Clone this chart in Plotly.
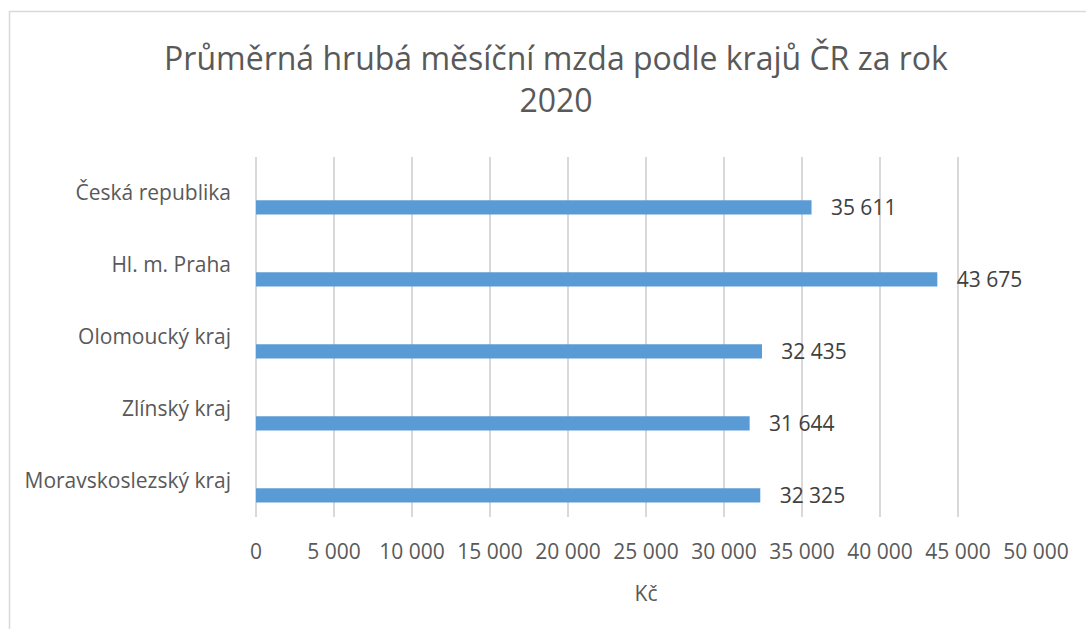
import plotly.graph_objects as go

categories = ["Česká republika", "Hl. m. Praha", "Olomoucký kraj", "Zlínský kraj", "Moravskoslezský kraj"]
values = [35611, 43675, 32435, 31644, 32325]
tick_values = [0, 5000, 10000, 15000, 20000, 25000, 30000, 35000, 40000, 45000, 50000]
title_text = "Průměrná hrubá měsíční mzda podle krajů ČR za rok<br>2020"
axis_title = "Kč"

FONT = "Open Sans"
TXT = "#595959"
GRID = "#D9D9D9"
BAR = "#5B9BD5"

fig = go.Figure()
fig.add_trace(go.Bar(
    x=values, y=categories, orientation="h",
    marker=dict(color=BAR, line=dict(width=0)),
    width=0.2, offset=0.1,
    texttemplate="\u00a0\u00a0\u00a0%{x:,d}",
    textposition="outside", constraintext="none", cliponaxis=False,
    textfont=dict(family=FONT, size=21, color="#404040"),
    hoverinfo="skip",
))

L, R, T, B = 256, 1036, 157, 517
W, H = 1086, 629

fig.update_layout(
    width=W, height=H,
    margin=dict(l=L, r=W - R, t=T, b=H - B, pad=0),
    paper_bgcolor="white", plot_bgcolor="white",
    separators=", ",
    showlegend=False,
    title=dict(text=title_text, x=556 / W, xanchor="center", xref="container",
               y=1 - 70 / H, yanchor="top", yref="container",
               font=dict(family=FONT, size=32, color=TXT)),
    xaxis=dict(range=[0, 50000], tickvals=tick_values, tickformat=",d",
               showgrid=True, gridcolor=GRID, gridwidth=1.5,
               zeroline=True, zerolinecolor=GRID, zerolinewidth=1.5,
               showline=False, ticks="", ticklabelstandoff=20,
               tickfont=dict(family=FONT, size=21, color=TXT),
               title=dict(text=axis_title, font=dict(family=FONT, size=21, color=TXT), standoff=22)),
    yaxis=dict(type="category", autorange="reversed", showgrid=False, zeroline=False,
               showline=False, ticks="", ticklabelstandoff=24,
               tickfont=dict(family=FONT, size=21, color=TXT)),
    shapes=[dict(type="rect", xref="paper", yref="paper",
                 x0=(9.5 - L) / (R - L), x1=(1100 - L) / (R - L),
                 y0=(B - 650) / (B - T), y1=(B - 11.5) / (B - T),
                 line=dict(color=GRID, width=1.5), fillcolor="rgba(0,0,0,0)", layer="below")],
)

fig.write_html("out.html", config={"displayModeBar": False},
               post_script="document.body.style.margin='0';document.body.style.overflow='hidden';")
